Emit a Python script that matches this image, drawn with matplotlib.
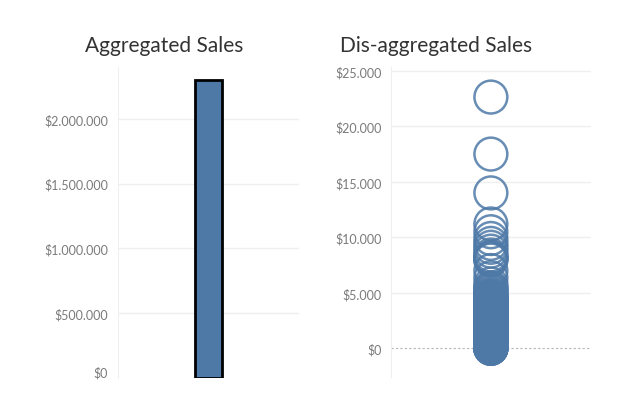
import matplotlib
matplotlib.use("Agg")
import matplotlib.pyplot as plt
from matplotlib.ticker import FuncFormatter

plt.rcParams['font.family'] = ['Lato', 'DejaVu Sans']

# aggregated: one bar with the total of all sales
agg_category = ["All"]
agg_sales = [2297201]

# dis-aggregated: individual order line sales
line_sales = [
    22638.48, 17499.95, 13999.96, 11199.97, 10499.97, 9892.74, 9449.95,
    9099.93, 8749.95, 8399.98, 8187.65, 8159.95, 7999.98, 7958.58,
    6999.96, 6354.95, 5785.02, 5443.96, 5399.91, 5199.96, 5083.96,
    4899.93, 4799.98, 4663.74, 4643.80, 4548.81, 4535.98, 4499.98,
    4416.17, 4404.90, 4305.55, 4297.64, 4228.70, 4199.93, 4158.91,
    4071.42, 3999.95, 3991.98, 3930.07, 3812.97, 3785.29, 3759.96,
    3709.40, 3610.85, 3504.90, 3499.93, 3406.66, 3359.95, 3266.38,
    3199.97, 3149.93, 3084.00, 2999.95, 2934.33, 2863.86, 2799.98,
    2735.95, 2652.93, 2573.82, 2549.99, 2453.43, 2399.96, 2348.82,
    2254.41, 2199.96, 2104.55, 2003.19, 1979.89, 1899.95, 1871.88,
    1799.99, 1702.12, 1649.92, 1599.92, 1525.19, 1487.04, 1399.93,
    1363.96, 1299.99, 1199.98, 1133.94, 1099.96, 1049.95, 999.98,
    959.98, 899.95, 839.98, 779.80, 719.97, 663.07, 599.97, 547.99,
    499.95, 447.84, 399.98, 353.92, 299.97, 261.96, 224.85, 191.98,
    155.37, 125.76, 95.62, 71.98, 48.86, 31.52, 19.46, 11.78, 6.63,
    2.98, 0.44,
]

agg_ticks = [0, 500000, 1000000, 1500000, 2000000]
line_ticks = [0, 5000, 10000, 15000, 20000, 25000]

blue = "#4e79a7"
grid = "#efefef"
tick_col = "#7a7a7a"


def money(v, pos):
    return "$" + f"{v:,.0f}".replace(",", ".")


fig = plt.figure(figsize=(6.32, 4.06), dpi=100)

ax1 = fig.add_axes([0.1862, 0.0665, 0.2869, 0.766])
ax2 = fig.add_axes([0.6187, 0.069, 0.316, 0.763])

# left: aggregated bar
ax1.bar([0], agg_sales, width=0.15, color=blue, edgecolor="black", linewidth=2, zorder=3)
ax1.set_xlim(-0.5, 0.5)
ax1.set_ylim(0, 2400000)
ax1.set_yticks(agg_ticks)

# right: every line as an open circle
ax2.scatter([0] * len(line_sales), line_sales, s=560, facecolors="none",
            edgecolors=blue, linewidths=1.8, alpha=0.85, zorder=3)
ax2.set_xlim(-0.5, 0.5)
ax2.set_ylim(-2590, 25330)
ax2.set_yticks(line_ticks)
ax2.axhline(0, color="#b5b5b5", lw=0.8, ls=(0, (2, 2)), zorder=1)

for ax in (ax1, ax2):
    ax.yaxis.set_major_formatter(FuncFormatter(money))
    ax.set_xticks([])
    for side in ("top", "right", "bottom"):
        ax.spines[side].set_visible(False)
    ax.spines["left"].set_color(grid)
    ax.tick_params(axis="y", length=0, pad=7, labelsize=9, labelcolor=tick_col)
    ax.grid(axis="y", color=grid, lw=1, zorder=0)
    ax.set_axisbelow(True)

# the $0 label of the bar chart sits inside the pane
ax1.get_yticklabels()[0].set_verticalalignment("bottom")
ax1.yaxis.get_major_ticks()[0].gridline.set_visible(False)
ax2.yaxis.get_major_ticks()[0].gridline.set_visible(False)

fig.text(164 / 632, 1 - 52 / 406, "Aggregated Sales", ha="center", va="baseline",
         fontsize=15, color="#333333")
fig.text(436.5 / 632, 1 - 52 / 406, "Dis-aggregated Sales", ha="center", va="baseline",
         fontsize=15, color="#333333")

fig.savefig("out.png", dpi=100)
